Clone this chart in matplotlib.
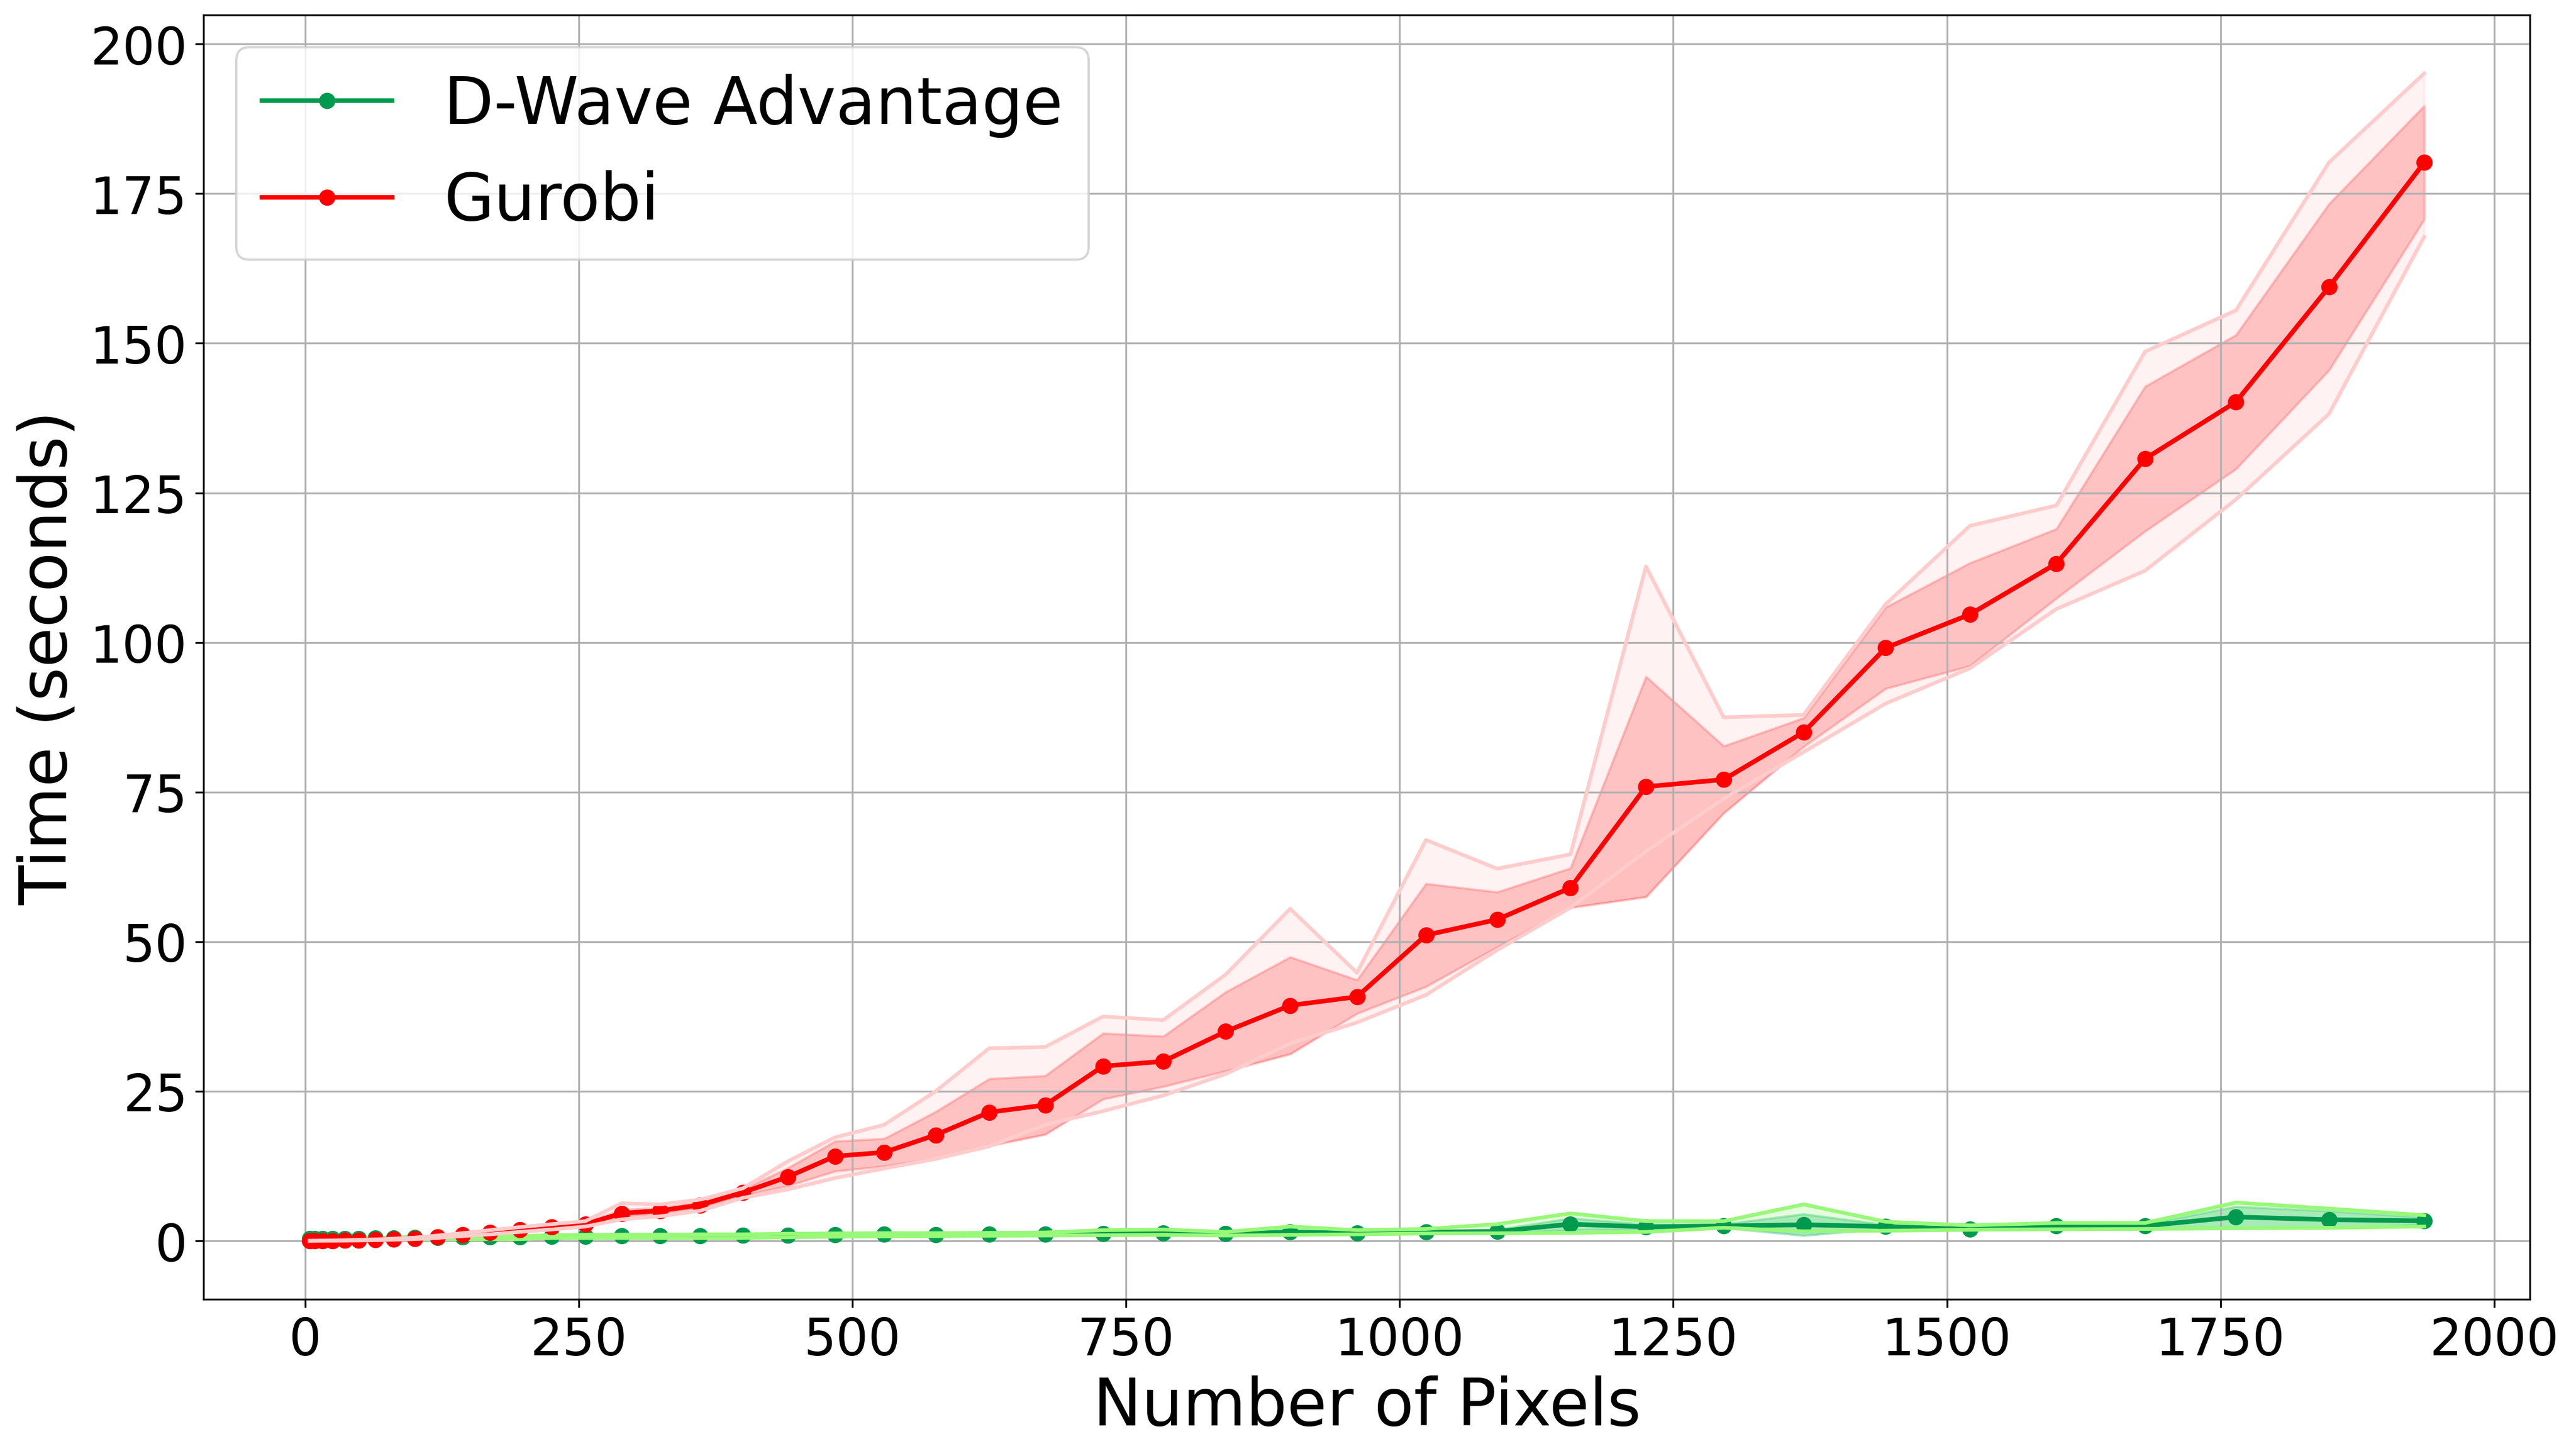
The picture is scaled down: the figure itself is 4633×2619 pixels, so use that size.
import numpy as np
import matplotlib
matplotlib.use("Agg")
import matplotlib.pyplot as plt

# problem sizes (number of pixels = n^2)
pixels = [4, 9, 16, 25, 36, 49, 64, 81, 100, 121, 144, 169, 196, 225, 256,
          289, 324, 361, 400, 441, 484, 529, 576, 625, 676, 729, 784, 841,
          900, 961, 1024, 1089, 1156, 1225, 1296, 1369, 1444, 1521, 1600,
          1681, 1764, 1849, 1936]

# D-Wave Advantage timings (seconds)
dwave_mean = [0.40, 0.40, 0.40, 0.40, 0.38, 0.40, 0.45, 0.47, 0.52, 0.60,
              0.62, 0.65, 0.68, 0.75, 0.77, 0.85, 0.86, 0.87, 0.90, 0.95,
              1.00, 1.08, 1.07, 1.10, 1.15, 1.25, 1.30, 1.18, 1.45, 1.30,
              1.45, 1.58, 2.80, 2.35, 2.50, 2.70, 2.40, 1.95, 2.50, 2.50,
              4.00, 3.55, 3.35]
dwave_std = [0.05, 0.05, 0.05, 0.05, 0.05, 0.05, 0.05, 0.05, 0.05, 0.08,
             0.08, 0.08, 0.08, 0.10, 0.10, 0.10, 0.10, 0.10, 0.10, 0.12,
             0.12, 0.12, 0.12, 0.12, 0.15, 0.30, 0.30, 0.15, 0.45, 0.20,
             0.25, 0.30, 1.00, 0.45, 0.30, 1.80, 0.30, 0.20, 0.30, 0.30,
             1.75, 1.45, 0.60]
dwave_min = [0.20, 0.20, 0.20, 0.20, 0.20, 0.20, 0.20, 0.30, 0.30, 0.30,
             0.30, 0.30, 0.30, 0.50, 0.50, 0.50, 0.50, 0.50, 0.50, 0.60,
             0.70, 0.75, 0.80, 0.85, 0.90, 0.95, 1.00, 0.90, 1.00, 1.10,
             1.24, 1.27, 1.33, 1.50, 2.20, 1.60, 1.70, 1.86, 1.95, 2.00,
             2.10, 2.20, 2.40]
dwave_max = [0.50, 0.50, 0.50, 0.50, 0.50, 0.50, 0.50, 0.60, 0.60, 0.80,
             0.80, 0.80, 0.80, 0.95, 1.00, 1.05, 1.05, 1.10, 1.10, 1.20,
             1.25, 1.30, 1.30, 1.35, 1.40, 1.80, 1.90, 1.50, 2.40, 1.80,
             2.00, 2.80, 4.60, 3.30, 3.30, 6.10, 3.20, 2.60, 3.00, 3.00,
             6.40, 5.40, 4.30]

# Gurobi timings (seconds)
gurobi_mean = [0.01, 0.02, 0.03, 0.05, 0.08, 0.12, 0.18, 0.28, 0.42, 0.70,
               1.00, 1.40, 1.85, 2.30, 2.80, 4.60, 5.05, 6.00, 8.10, 10.7,
               14.15, 14.8, 17.7, 21.5, 22.7, 29.2, 30.0, 35.0, 39.35, 40.8,
               51.1, 53.7, 59.0, 75.9, 77.1, 85.0, 99.1, 104.7, 113.2, 130.7,
               140.2, 159.4, 180.2]
gurobi_std = [0.0, 0.0, 0.0, 0.0, 0.0, 0.01, 0.02, 0.03, 0.05, 0.08,
              0.10, 0.15, 0.20, 0.25, 0.30, 0.60, 0.45, 0.50, 0.50, 1.5,
              2.5, 2.3, 3.9, 5.6, 4.9, 5.5, 4.2, 6.6, 8.1, 2.8,
              8.6, 4.6, 3.3, 18.4, 5.6, 2.4, 6.8, 8.6, 5.8, 12.1,
              11.2, 13.9, 9.5]
gurobi_min = [0.0, 0.01, 0.02, 0.03, 0.05, 0.08, 0.12, 0.20, 0.30, 0.50,
              0.80, 1.10, 1.50, 1.90, 2.40, 3.60, 4.10, 5.05, 7.20, 8.6,
              10.5, 12.1, 13.7, 15.8, 19.4, 21.7, 24.3, 27.9, 33.0, 36.5,
              41.1, 48.6, 55.7, 65.1, 73.9, 81.7, 89.8, 95.7, 105.6, 112.0,
              123.9, 138.2, 167.8]
gurobi_max = [0.02, 0.03, 0.05, 0.08, 0.12, 0.18, 0.25, 0.38, 0.55, 0.90,
              1.30, 1.80, 2.30, 2.80, 3.30, 6.30, 6.10, 6.90, 8.80, 13.3,
              17.3, 19.4, 25.0, 32.2, 32.4, 37.5, 36.9, 44.5, 55.5, 44.8,
              67.0, 62.2, 64.6, 112.7, 87.5, 87.9, 106.4, 119.5, 122.9, 148.6,
              155.5, 180.2, 195.1]

x = np.array(pixels)

fig = plt.figure(figsize=(4633 / 300, 2620 / 300))
ax = fig.add_subplot(111)
fig.subplots_adjust(left=0.0791, right=0.9821, top=0.9893, bottom=0.1076)

series = [
    ("D-Wave Advantage", dwave_mean, dwave_std, dwave_min, dwave_max,
     "#009a4e", "#2ec27e", 0.4, "#98f878"),
    ("Gurobi", gurobi_mean, gurobi_std, gurobi_min, gurobi_max,
     "red", "red", 0.25, "#ffcccc"),
]

for label, mean, std, lo, hi, col, band, band_alpha, edge in series:
    mean = np.array(mean)
    std = np.array(std)
    ax.plot(x, mean, marker="o", markersize=6, linewidth=2, color=col, label=label)
    ax.fill_between(x, mean - std, mean + std, color=band, alpha=band_alpha)
    ax.fill_between(x, lo, hi, color=edge, alpha=0.25)
    ax.plot(x, lo, color=edge, linewidth=1.6)
    ax.plot(x, hi, color=edge, linewidth=1.6)

ax.grid(True)
ax.set_xlabel("Number of Pixels", fontsize=28)
ax.set_ylabel("Time (seconds)", fontsize=28)
ax.tick_params(axis="both", labelsize=22)
ax.legend(loc="upper left", fontsize=28)

fig.savefig("out.png", dpi=300)
